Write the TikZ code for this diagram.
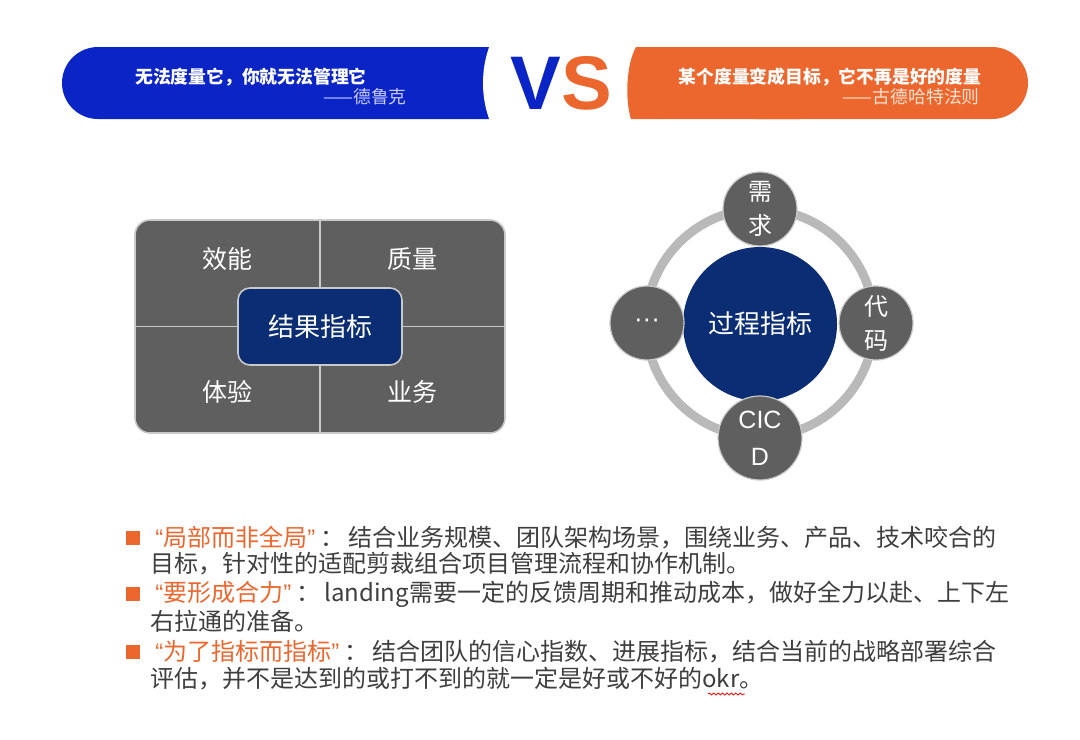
\documentclass[tikz,border=0pt]{standalone}
\usepackage{fontspec}
\setmainfont{Liberation Sans}
\newfontfamily\cjk{Noto Sans CJK SC}
\newfontfamily\latin{Liberation Sans}
\usetikzlibrary{decorations.pathmorphing}
\definecolor{bandblue}{HTML}{0B24C6}
\definecolor{bandorange}{HTML}{EC672E}
\definecolor{navy}{HTML}{0B2D73}
\definecolor{boxgray}{HTML}{5F5F5F}
\definecolor{edgegray}{HTML}{C9C9C9}
\definecolor{ringgray}{HTML}{B9B9B9}
\definecolor{bodytext}{HTML}{3E3E3E}
\definecolor{lavender}{HTML}{C9CCFF}
\definecolor{peach}{HTML}{FFE3D4}
\tikzset{
  quote/.style={text=white, inner sep=0pt, font=\fontsize{8.9}{10}\selectfont\cjk\bfseries},
  author/.style={inner sep=0pt, anchor=east, font=\fontsize{8.9}{10}\selectfont\cjk},
  cell/.style={text=white, inner sep=0pt, font=\fontsize{12.5}{14}\selectfont\cjk},
  centerbox/.style={fill=navy, draw=edgegray, line width=0.8pt, rounded corners=6pt,
     minimum width=82pt, minimum height=38.5pt, text=white, font=\fontsize{13}{15}\selectfont\cjk},
  divider/.style={draw=edgegray, line width=0.8pt},
  ring/.style={draw=ringgray, line width=4.5pt},
  hub/.style={circle, fill=navy, minimum size=77pt, inner sep=0pt, text=white,
     font=\fontsize{13}{15}\selectfont\cjk},
  sat/.style={circle, fill=boxgray, draw=edgegray, line width=0.6pt, minimum size=37pt,
     inner sep=0pt, text=white, align=center, font=\fontsize{12}{17}\selectfont\cjk},
  bullet/.style={fill=bandorange, minimum size=7pt, inner sep=0pt},
  body/.style={anchor=west, inner sep=0pt, text=bodytext, font=\fontsize{12}{14}\selectfont\cjk},
}
\newcommand{\hl}[1]{\textcolor{bandorange}{\makebox[6.5pt][r]{\latin “}#1\makebox[6.5pt][l]{\latin ”}}}
\newcommand{\cln}{：\hspace{2pt}}
\begin{document}
\begin{tikzpicture}[x=0.5pt,y=-0.5pt]
\useasboundingbox (0,0) rectangle (1080,739);
% banner
\fill[bandblue, rounded corners=18pt] (62,47) rectangle (570,119);
\fill[white] (575,83) ellipse [x radius=46pt, y radius=50pt];
\fill[bandorange, rounded corners=18pt] (720,47) rectangle (1028,119);
\fill[bandorange] (636,47) -- (800,47) -- (800,119) -- (631,119)
   .. controls (625,100) and (626,65) .. (636,47) -- cycle;
\node[inner sep=0pt, font=\fontsize{38}{38}\selectfont\bfseries] (vs) at (561,83)
   {\textcolor{bandblue}{V}\textcolor{bandorange}{S}};
\node[quote] (q1) at (251,77) {无法度量它，你就无法管理它};
\node[author, text=lavender] (a1) at (407,97) {——德鲁克};
\node[quote] (q2) at (830,77) {某个度量变成目标，它不再是好的度量};
\node[author, text=peach] (a2) at (980,97) {——古德哈特法则};
% result grid
\node[fill=boxgray, draw=edgegray, line width=0.8pt, rounded corners=7.5pt,
   minimum width=185pt, minimum height=106.5pt, inner sep=0pt] (grid) at (320,326.5) {};
\draw[divider] (grid.north) -- (grid.south);
\draw[divider] (grid.west) -- (grid.east);
\node[centerbox] (result) at (320,326.5) {结果指标};
\node[cell] (c1) at (227,259) {效能};
\node[cell] (c2) at (412,259) {质量};
\node[cell] (c3) at (227,392) {体验};
\node[cell] (c4) at (412,392) {业务};
% process ring
\node[circle, minimum size=114pt, inner sep=0pt] (ringc) at (760,323) {};
\draw[ring] (ringc.center) circle[radius=57pt];
\node[hub] (process) at (760,324) {过程指标};
\node[sat] (s1) at (760,209) {需\\求};
\node[sat] (s2) at (876,323) {代\\码};
\node[sat, font=\fontsize{13}{15}\selectfont] (s3) at (647,323) {\textperiodcentered\textperiodcentered\textperiodcentered};
\node[sat, minimum size=42pt, font=\fontsize{12.5}{18.5}\selectfont] (s4) at (760,438) {CIC\\D};
% bullets
\node[bullet] (b1) at (133,538) {};
\node[bullet] (b2) at (133,594) {};
\node[bullet] (b3) at (133,652) {};
\node[body] (l1) at (150,538) {\hl{局部而非全局}\cln 结合业务规模、团队架构场景，围绕业务、产品、技术咬合的};
\node[body] (l2) at (150,564) {目标，针对性的适配剪裁组合项目管理流程和协作机制。};
\node[body] (l3) at (150,594) {\hl{要形成合力}\cln landing需要一定的反馈周期和推动成本，做好全力以赴、上下左};
\node[body] (l4) at (150,621) {右拉通的准备。};
\node[body] (l5) at (150,652) {\hl{为了指标而指标}\cln 结合团队的信心指数、进展指标，结合当前的战略部署综合};
\node[body] (l6) at (150,679) {评估，并不是达到的或打不到的就一定是好或不好的okr。};
\draw[red, line width=0.4pt, decorate, decoration={snake, amplitude=0.5pt, segment length=2.2pt}]
   (708,694) -- (745,694);
\end{tikzpicture}
\end{document}
